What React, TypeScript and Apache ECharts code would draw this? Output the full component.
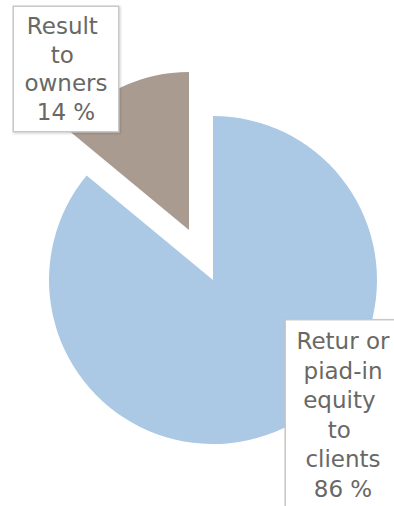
import React, { useEffect, useRef } from "react";
import * as echarts from "echarts";

const categories = ["Retur or piad-in equity to clients", "Result to owners"];
const shares = [86, 14];
const sliceColors = ["#abc9e5", "#a99b8f"];

const labelPos = [
  { x: 343, y: 415, padding: [6, 8, 6, 8], lineHeight: 29.5 },
  { x: 66, y: 69, padding: [8, 3, 2, 3], lineHeight: 28.5 },
];

export default function App() {
  const ref = useRef<HTMLDivElement>(null);
  useEffect(() => {
    if (!ref.current) return;
    const chart = echarts.init(ref.current, undefined, { renderer: "svg" });
    const makeData = (shown: number) =>
      categories.map((name, i) => ({
        name,
        value: shares[i],
        itemStyle: { color: i === shown ? sliceColors[i] : "transparent" },
        label: {
          show: i === shown,
          padding: labelPos[i].padding,
          lineHeight: labelPos[i].lineHeight,
        },
      }));
    const common = {
      type: "pie" as const,
      startAngle: 90,
      clockwise: true,
      silent: true,
      avoidLabelOverlap: false,
      emphasis: { disabled: true },
      labelLine: { show: false },
      label: {
        position: "outside",
        formatter: "{b}\n{c} %",
        fontFamily: "DejaVu Sans",
        fontSize: 23,
        color: "#686866",
        backgroundColor: "#ffffff",
        borderColor: "#c8c8c8",
        borderWidth: 1.5,
        shadowColor: "rgba(0,0,0,0.18)",
        shadowBlur: 2,
        shadowOffsetX: 1,
        shadowOffsetY: 1,
        width: 98,
        overflow: "break",
        align: "center",
      },
      labelLayout: (p: any) => ({
        x: labelPos[p.dataIndex].x,
        y: labelPos[p.dataIndex].y,
        align: "center",
        verticalAlign: "middle",
      }),
    };
    chart.setOption({
      animation: false,
      series: [
        { ...common, center: [213, 280], radius: 164, data: makeData(0), z: 2 },
        { ...common, center: [189, 230], radius: 158, data: makeData(1), z: 2 },
      ],
    });
    return () => chart.dispose();
  }, []);
  return (
    <div
      ref={ref}
      style={{ position: "fixed", left: 0, top: 0, width: 394, height: 506, background: "#fff" }}
    />
  );
}
